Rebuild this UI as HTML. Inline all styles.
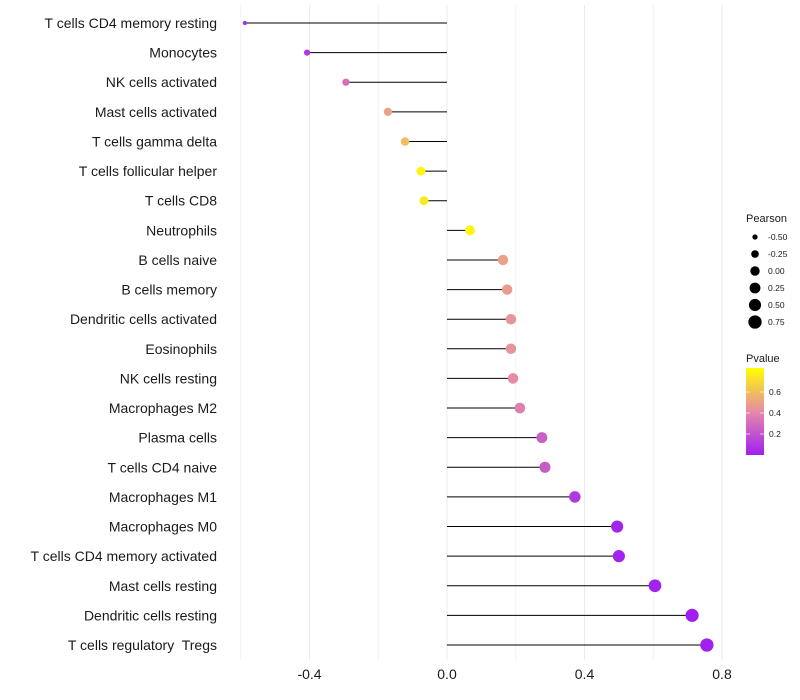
<!DOCTYPE html>
<html><head><meta charset="utf-8"><style>
body{margin:0;background:#fff;}
svg{display:block;font-family:"Liberation Sans",sans-serif;}
text{white-space:pre;}
</style></head><body>
<svg id="chart" width="800" height="700">
<defs><linearGradient id="pg" x1="0" y1="1" x2="0" y2="0">
<stop offset="0" stop-color="#A020F0"/><stop offset="0.5" stop-color="#E58AA8"/><stop offset="1" stop-color="#FFFF00"/>
</linearGradient></defs>
<g id="grid"></g><g id="marks"></g><g id="labels"></g><g id="legend"></g>
</svg>
<script>
const categories=["T cells CD4 memory resting","Monocytes","NK cells activated","Mast cells activated","T cells gamma delta","T cells follicular helper","T cells CD8","Neutrophils","B cells naive","B cells memory","Dendritic cells activated","Eosinophils","NK cells resting","Macrophages M2","Plasma cells","T cells CD4 naive","Macrophages M1","Macrophages M0","T cells CD4 memory activated","Mast cells resting","Dendritic cells resting","T cells regulatory  Tregs"];
const pearson=[-0.588,-0.407,-0.294,-0.172,-0.122,-0.076,-0.067,0.067,0.163,0.175,0.186,0.186,0.192,0.212,0.276,0.285,0.372,0.495,0.5,0.605,0.713,0.756];
const pvalue=[0.05,0.1,0.3,0.5,0.6,0.8,0.75,0.8,0.5,0.48,0.45,0.45,0.42,0.37,0.25,0.23,0.1,0.02,0.02,0.01,0.0,0.0];
const xTicks=[-0.4,0,0.4,0.8];
const xTickLabels=["-0.4","0.0","0.4","0.8"];
const minorTicks=[-0.6,-0.2,0.2,0.6];
const sizeLegend=[-0.5,-0.25,0,0.25,0.5,0.75];
const sizeLegendLabels=["-0.50","-0.25","0.00","0.25","0.50","0.75"];
const colorTicks=[0.2,0.4,0.6];

const NS="http://www.w3.org/2000/svg";
const x=v=>447+v*343.75;
const y=i=>23+i*(622/21);
const rad=v=>Math.sqrt(Math.max(0.8,22+30*v));
function lerp(a,b,t){return a.map((c,k)=>Math.round(c+(b[k]-c)*t));}
function col(p){const t=Math.max(0,Math.min(1,p/0.83));
 const s=[[160,32,240],[229,138,168],[255,255,0]];
 const c=t<0.5?lerp(s[0],s[1],t*2):lerp(s[1],s[2],(t-0.5)*2);return `rgb(${c})`;}
function el(tag,attrs,parent,text){const e=document.createElementNS(NS,tag);for(const k in attrs)e.setAttribute(k,attrs[k]);if(text!==undefined)e.textContent=text;parent.appendChild(e);return e;}
const grid=document.getElementById('grid'),marks=document.getElementById('marks'),labels=document.getElementById('labels'),legend=document.getElementById('legend');
minorTicks.forEach(v=>{const l=el('line',{x1:x(v),x2:x(v),y1:5,y2:660,stroke:'#f2f2f2','stroke-width':1},grid);

});
xTicks.forEach((v,i)=>{const l=el('line',{x1:x(v),x2:x(v),y1:5,y2:660,stroke:'#ebebeb','stroke-width':1},grid);


const t=el('text',{x:x(v),y:679,'text-anchor':'middle','font-size':14,fill:'#1a1a1a'},labels,xTickLabels[i]);

});
categories.forEach((c,i)=>{
 const t=el('text',{x:217,y:y(i)+5,'text-anchor':'end','font-size':14,fill:'#1a1a1a'},labels,c);
 
 
 const l=el('line',{x1:x(0),x2:x(pearson[i]),y1:y(i),y2:y(i),stroke:'#000','stroke-width':1},marks);
 
 
 const d=el('circle',{cx:x(pearson[i]),cy:y(i),r:rad(pearson[i]),fill:col(pvalue[i])},marks);
 
 
});
const lt=el('text',{x:746,y:222,'font-size':11,fill:'#1a1a1a'},legend,'Pearson');


sizeLegend.forEach((v,i)=>{const cy=237+i*17;
 const d=el('circle',{cx:755,cy:cy,r:rad(v)},legend);
 
 
 const t=el('text',{x:768,y:cy+3,'font-size':8.5,fill:'#1a1a1a'},legend,sizeLegendLabels[i]);
 
 });
const ct=el('text',{x:746,y:362,'font-size':11,fill:'#1a1a1a'},legend,'Pvalue');


const cb=el('rect',{x:746,y:368,width:18,height:87,fill:'url(#pg)'},legend);


const cy=p=>455-p*105;
colorTicks.forEach(p=>{
 el('line',{x1:746,x2:750,y1:cy(p),y2:cy(p),stroke:'#fff','stroke-opacity':0.6},legend);
 el('line',{x1:760,x2:764,y1:cy(p),y2:cy(p),stroke:'#fff','stroke-opacity':0.6},legend);
 const t=el('text',{x:769,y:cy(p)+3,'font-size':8.5,fill:'#1a1a1a'},legend,p.toFixed(1));
 
 });
</script>
</body></html>
